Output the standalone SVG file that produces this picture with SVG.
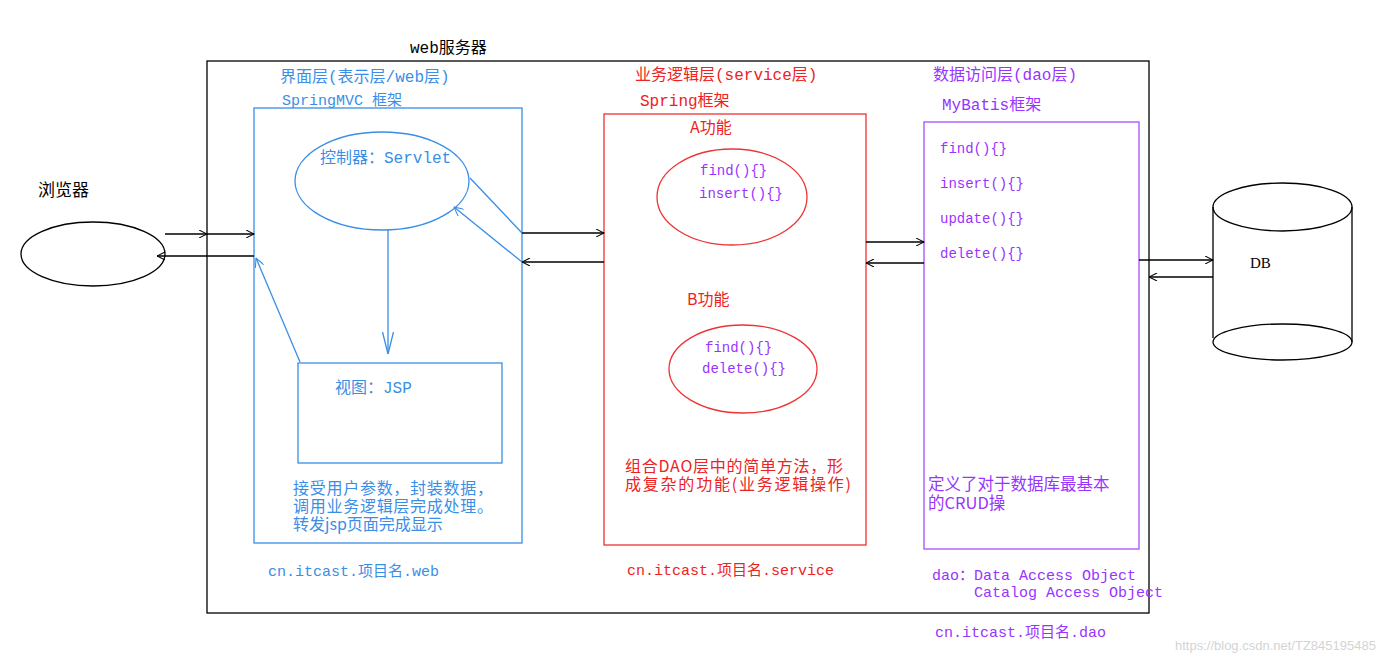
<svg xmlns="http://www.w3.org/2000/svg" width="1400" height="662" viewBox="0 0 1400 662">
<style>
.t{font-family:"Liberation Mono","Noto Sans CJK SC",monospace;}
.c{font-family:"Noto Sans CJK SC","Liberation Sans",sans-serif;}
.blk{fill:#000;}
.blue{fill:#3a8ee6;}
.red{fill:#ee2222;}
.pur{fill:#9933ff;}
.lb{stroke:#3a8ee6;stroke-width:1.3;fill:none;}
.lr{stroke:#ee3333;stroke-width:1.3;fill:none;}
.lp{stroke:#a64dff;stroke-width:1.3;fill:none;}
.lk{stroke:#000;stroke-width:1.3;fill:none;}
</style>
<defs>
<marker id="ak" viewBox="0 0 10 10" refX="10" refY="5" markerWidth="9" markerHeight="8" markerUnits="userSpaceOnUse" orient="auto"><path d="M0,0 L10,5 L0,10" fill="none" stroke="#000" stroke-width="1.3"/></marker>
<marker id="ab" viewBox="0 0 10 10" refX="10" refY="5" markerWidth="10" markerHeight="9" markerUnits="userSpaceOnUse" orient="auto"><path d="M0,0 L10,5 L0,10" fill="none" stroke="#3a8ee6" stroke-width="1.2"/></marker>
<marker id="abl" viewBox="0 0 20 10" refX="20" refY="5" markerWidth="22" markerHeight="12" markerUnits="userSpaceOnUse" orient="auto"><path d="M0,0 L20,5 L0,10" fill="none" stroke="#3a8ee6" stroke-width="1.2"/></marker>
</defs>
<rect width="1400" height="662" fill="#fff"/>

<g id="web-server">
<rect x="207" y="61" width="942" height="552" class="lk"/>
<text x="410" y="53" class="t blk" font-size="16">web服务器</text>
</g>

<g id="browser">
<ellipse cx="93" cy="254" rx="72" ry="32" class="lk"/>
<text x="38" y="196" class="c blk" font-size="17">浏览器</text>
</g>

<g id="web-layer">
<text x="280" y="82" class="t blue" font-size="16">界面层(表示层/web层)</text>
<text x="282" y="105" class="t blue" font-size="15">SpringMVC 框架</text>
<rect x="254" y="108" width="268" height="435" class="lb"/>
<text class="c blue" font-size="16"><tspan x="293" y="494" textLength="200">接受用户参数，封装数据，</tspan><tspan x="293" y="512" textLength="200">调用业务逻辑层完成处理。</tspan><tspan x="293" y="530">转发jsp页面完成显示</tspan></text>
<text x="268" y="576" class="t blue" font-size="15">cn.itcast.项目名.web</text>
</g>

<g id="controller">
<ellipse cx="382" cy="181" rx="87" ry="49" class="lb"/>
<text x="320" y="163" class="t blue" font-size="16">控制器：Servlet</text>
</g>

<g id="view">
<rect x="298" y="363" width="204" height="100" class="lb"/>
<text x="335" y="393" class="t blue" font-size="16">视图：JSP</text>
</g>

<g id="service-layer">
<text x="635" y="80" class="t red" font-size="16">业务逻辑层(service层)</text>
<text x="640" y="106" class="t red" font-size="16">Spring框架</text>
<rect x="604" y="114" width="262" height="431" class="lr"/>
<text class="c red" font-size="16"><tspan x="625" y="472" textLength="218">组合DAO层中的简单方法，形</tspan><tspan x="625" y="490" textLength="226">成复杂的功能(业务逻辑操作)</tspan></text>
<text x="627" y="575" class="t red" font-size="15">cn.itcast.项目名.service</text>
</g>

<g id="func-a">
<text x="690" y="133" class="c red" font-size="16">A功能</text>
<ellipse cx="732" cy="197" rx="75" ry="48" class="lr"/>
<text x="700" y="175" class="t pur" font-size="14">find(){}</text>
<text x="699" y="198" class="t pur" font-size="14">insert(){}</text>
</g>

<g id="func-b">
<text x="687" y="305" class="c red" font-size="16">B功能</text>
<ellipse cx="743" cy="369" rx="74" ry="44" class="lr"/>
<text x="705" y="352" class="t pur" font-size="14">find(){}</text>
<text x="702" y="373" class="t pur" font-size="14">delete(){}</text>
</g>

<g id="dao-layer">
<text x="933" y="80" class="t pur" font-size="16">数据访问层(dao层)</text>
<text x="942" y="110" class="t pur" font-size="16">MyBatis框架</text>
<rect x="924" y="122" width="215" height="427" class="lp"/>
<text x="940" y="153" class="t pur" font-size="14">find(){}</text>
<text x="940" y="188" class="t pur" font-size="14">insert(){}</text>
<text x="940" y="223" class="t pur" font-size="14">update(){}</text>
<text x="940" y="258" class="t pur" font-size="14">delete(){}</text>
<text class="c pur" font-size="16.5"><tspan x="928" y="490">定义了对于数据库最基本</tspan><tspan x="928" y="509">的CRUD操</tspan></text>
<text class="t pur" font-size="15"><tspan x="932" y="580">dao：Data Access Object</tspan><tspan x="974" y="597">Catalog Access Object</tspan></text>
<text x="935" y="637" class="t pur" font-size="15">cn.itcast.项目名.dao</text>
</g>

<g id="db">
<path d="M1213,207 L1213,338 M1352,207 L1352,342" class="lk"/>
<ellipse cx="1282.5" cy="207" rx="69.5" ry="24" class="lk" fill="#fff"/>
<ellipse cx="1282.5" cy="342" rx="69.5" ry="18" class="lk"/>
<text x="1250" y="268" font-family="'Liberation Serif',serif" font-size="15" class="blk">DB</text>
</g>

<g id="connectors">
<line x1="165" y1="234" x2="207" y2="234" class="lk" marker-end="url(#ak)"/>
<line x1="207" y1="234" x2="254" y2="234" class="lk" marker-end="url(#ak)"/>
<line x1="254" y1="256" x2="157" y2="256" class="lk" marker-end="url(#ak)"/>
<line x1="522" y1="233" x2="604" y2="233" class="lk" marker-end="url(#ak)"/>
<line x1="604" y1="262" x2="522" y2="262" class="lk" marker-end="url(#ak)"/>
<line x1="866" y1="242" x2="924" y2="242" class="lk" marker-end="url(#ak)"/>
<line x1="924" y1="263" x2="866" y2="263" class="lk" marker-end="url(#ak)"/>
<line x1="1139" y1="260" x2="1213" y2="260" class="lk" marker-end="url(#ak)"/>
<line x1="1213" y1="277" x2="1149" y2="277" class="lk" marker-end="url(#ak)"/>
<line x1="470" y1="178" x2="522" y2="233" class="lb"/>
<line x1="522" y1="262" x2="454" y2="207" class="lb" marker-end="url(#ab)"/>
<line x1="388" y1="230" x2="388" y2="354" class="lb" marker-end="url(#abl)"/>
<line x1="300" y1="362" x2="256" y2="258" class="lb" marker-end="url(#ab)"/>
</g>

<text x="1175" y="650" font-family="'Liberation Sans',sans-serif" font-size="13" fill="#d4d4d4">https://blog.csdn.net/TZ845195485</text>
</svg>
